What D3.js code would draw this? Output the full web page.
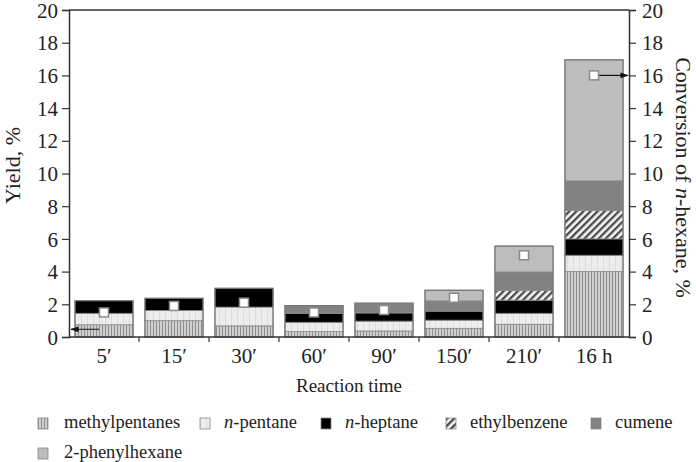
<!DOCTYPE html>
<html>
<head>
<meta charset="utf-8">
<script src="https://cdn.jsdelivr.net/npm/d3@7"></script>
<style>
  body { margin: 0; background: #fff; }
</style>
</head>
<body>
<svg id="chart" width="696" height="462"></svg>
<script>
// categories + series (yield, %)
const categories = ["5\u2032", "15\u2032", "30\u2032", "60\u2032", "90\u2032", "150\u2032", "210\u2032", "16 h"];
const methylpentanes = [0.75, 1.0, 0.68, 0.33, 0.37, 0.53, 0.78, 4.0];
const nPentane       = [0.70, 0.62, 1.15, 0.57, 0.60, 0.50, 0.67, 1.0];
const nHeptane       = [0.77, 0.75, 1.15, 0.55, 0.50, 0.55, 0.80, 1.0];
const ethylbenzene   = [0, 0, 0, 0, 0, 0, 0.60, 1.75];
const cumene         = [0, 0, 0, 0.47, 0.60, 0.63, 1.13, 1.8];
const phenylhexane   = [0, 0, 0, 0, 0, 0.65, 1.58, 7.4];
// conversion of n-hexane, % (right axis)
const conversion = [1.5, 1.9, 2.1, 1.5, 1.65, 2.4, 5.0, 16.0];
const yTicks = [0, 2, 4, 6, 8, 10, 12, 14, 16, 18, 20];

const seriesKeys = ["mp", "np", "nh", "eb", "cu", "ph"];
const seriesNames = ["methylpentanes", "n-pentane", "n-heptane", "ethylbenzene", "cumene", "2-phenylhexane"];
const seriesFill = ["url(#pat-mp)", "url(#pat-np)", "#000", "url(#pat-eb)", "#828282", "#bdbdbd"];

const serif = "Liberation Serif";

const rows = categories.map((c, i) => ({
  cat: c,
  mp: methylpentanes[i], np: nPentane[i], nh: nHeptane[i],
  eb: ethylbenzene[i], cu: cumene[i], ph: phenylhexane[i],
  conv: conversion[i]
}));

const width = 696, height = 462;
const margin = { top: 10, right: 67, bottom: 125, left: 69 };
const innerW = width - margin.left - margin.right;
const innerH = height - margin.top - margin.bottom;

const svg = d3.select("#chart");

// patterns
const defs = svg.append("defs");
const pMp = defs.append("pattern").attr("id", "pat-mp")
  .attr("patternUnits", "userSpaceOnUse").attr("width", 3).attr("height", 10);
pMp.append("rect").attr("width", 3).attr("height", 10).attr("fill", "#cfcfcf");
pMp.append("line").attr("x1", 0.5).attr("x2", 0.5).attr("y1", 0).attr("y2", 10)
  .attr("stroke", "#8f8f8f").attr("stroke-width", 1);

const pNp = defs.append("pattern").attr("id", "pat-np")
  .attr("patternUnits", "userSpaceOnUse").attr("width", 6).attr("height", 10);
pNp.append("rect").attr("width", 6).attr("height", 10).attr("fill", "#ededed");
pNp.append("line").attr("x1", 0.5).attr("x2", 0.5).attr("y1", 0).attr("y2", 10)
  .attr("stroke", "#dcdcdc").attr("stroke-width", 1);

const pEb = defs.append("pattern").attr("id", "pat-eb")
  .attr("patternUnits", "userSpaceOnUse").attr("width", 5).attr("height", 5)
  .attr("patternTransform", "rotate(45)");
pEb.append("rect").attr("width", 5).attr("height", 5).attr("fill", "#f4f4f4");
pEb.append("rect").attr("width", 2.3).attr("height", 5).attr("fill", "#4a4a4a");

const g = svg.append("g").attr("transform", `translate(${margin.left},${margin.top})`);

const x = d3.scaleBand().domain(categories).range([0, innerW])
  .paddingInner(0.17).paddingOuter(0.085);
const y = d3.scaleLinear().domain([0, 20]).range([innerH, 0]);
const y2 = d3.scaleLinear().domain([0, 20]).range([innerH, 0]);

// stacked bars
const stacked = d3.stack().keys(seriesKeys)(rows);
const layer = g.selectAll(".layer").data(stacked).join("g")
  .attr("class", "layer")
  .attr("fill", (d, i) => seriesFill[i]);

layer.selectAll("rect")
  .data(d => d.filter(s => s[1] - s[0] > 0))
  .join("rect")
    .attr("x", d => x(d.data.cat))
    .attr("y", d => y(d[1]))
    .attr("width", x.bandwidth())
    .attr("height", d => y(d[0]) - y(d[1]))
    .attr("stroke", "#8a8a8a")
    .attr("stroke-width", 0.8);

// outer bar outline
g.selectAll(".bar-outline").data(rows).join("rect")
  .attr("class", "bar-outline")
  .attr("x", d => x(d.cat))
  .attr("y", d => y(d.mp + d.np + d.nh + d.eb + d.cu + d.ph))
  .attr("width", x.bandwidth())
  .attr("height", d => innerH - y(d.mp + d.np + d.nh + d.eb + d.cu + d.ph))
  .attr("fill", "none")
  .attr("stroke", "#777")
  .attr("stroke-width", 1.2);

// arrows
defs.append("marker").attr("id", "arrow")
  .attr("viewBox", "0 0 10 10").attr("refX", 9).attr("refY", 5)
  .attr("markerWidth", 7).attr("markerHeight", 7).attr("orient", "auto-start-reverse")
  .append("path").attr("d", "M0,1.5L10,5L0,8.5z").attr("fill", "#111");

const first = rows[0], last = rows[rows.length - 1];
g.append("line")
  .attr("x1", x(first.cat) + x.bandwidth() / 2 - 5).attr("y1", y(0.47))
  .attr("x2", 2).attr("y2", y(0.47))
  .attr("stroke", "#333").attr("stroke-width", 1.2)
  .attr("marker-end", "url(#arrow)");
g.append("line")
  .attr("x1", x(last.cat) + x.bandwidth() / 2 + 5).attr("y1", y2(last.conv))
  .attr("x2", innerW - 1).attr("y2", y2(last.conv))
  .attr("stroke", "#111").attr("stroke-width", 1.2)
  .attr("marker-end", "url(#arrow)");

// conversion markers
g.selectAll(".conv").data(rows).join("rect")
  .attr("class", "conv")
  .attr("x", d => x(d.cat) + x.bandwidth() / 2 - 4.5)
  .attr("y", d => y2(d.conv) - 4.5)
  .attr("width", 9).attr("height", 9)
  .attr("fill", "#fff")
  .attr("stroke", "#8a8a8a")
  .attr("stroke-width", 1.5);

// frame
g.append("line").attr("x1", 0).attr("x2", innerW).attr("y1", 0).attr("y2", 0)
  .attr("stroke", "#333").attr("stroke-width", 1.5);

// axes
const yAxisL = d3.axisLeft(y).tickValues(yTicks).tickSize(7).tickPadding(4);
const yAxisR = d3.axisRight(y2).tickValues(yTicks).tickSize(7).tickPadding(6);
const gl = g.append("g").call(yAxisL);
const gr = g.append("g").attr("transform", `translate(${innerW},0)`).call(yAxisR);
[gl, gr].forEach(a => {
  a.attr("font-family", null).attr("font-size", null);
  a.select(".domain").attr("stroke", "#333").attr("stroke-width", 1.5);
  a.selectAll(".tick line").attr("stroke", "#333").attr("stroke-width", 1.2);
  a.selectAll(".tick text")
    .style("font-family", serif).style("font-size", "21px")
    .attr("fill", "#222").attr("dy", "0.34em");
});

// x axis: baseline, boundary ticks, category labels
const gx = g.append("g").attr("transform", `translate(0,${innerH})`);
gx.append("line").attr("x1", 0).attr("x2", innerW)
  .attr("stroke", "#333").attr("stroke-width", 1.5);
gx.selectAll(".xb").data(d3.range(1, categories.length)).join("line")
  .attr("class", "xb")
  .attr("x1", i => x.step() * i).attr("x2", i => x.step() * i)
  .attr("y1", 0).attr("y2", 5)
  .attr("stroke", "#333").attr("stroke-width", 1.2);
gx.selectAll(".xl").data(categories).join("text")
  .attr("class", "xl")
  .attr("x", d => x(d) + x.bandwidth() / 2)
  .attr("y", 26)
  .attr("text-anchor", "middle")
  .style("font-family", serif).style("font-size", "21px")
  .attr("fill", "#222")
  .text(d => d);

// axis titles
g.append("text")
  .attr("x", innerW / 2).attr("y", innerH + 55)
  .attr("text-anchor", "middle")
  .style("font-family", serif).style("font-size", "19px")
  .attr("fill", "#222")
  .text("Reaction time");

g.append("text")
  .attr("transform", `translate(${-49},${innerH / 2 - 8}) rotate(-90)`)
  .attr("text-anchor", "middle")
  .style("font-family", serif).style("font-size", "22px")
  .attr("fill", "#222")
  .text("Yield, %");

const rt = g.append("text")
  .attr("transform", `translate(${innerW + 47},${innerH / 2 + 4}) rotate(90)`)
  .attr("text-anchor", "middle")
  .style("font-family", serif).style("font-size", "22px")
  .attr("fill", "#222");
rt.append("tspan").text("Conversion of ");
rt.append("tspan").attr("font-style", "italic").text("n");
rt.append("tspan").text("-hexane, %");

// legend
const legendPos = [[38, 418], [200, 418], [321, 418], [446, 418], [591, 418], [38, 448]];
const lg = svg.append("g").attr("class", "legend");
const items = lg.selectAll("g").data(seriesNames).join("g")
  .attr("transform", (d, i) => `translate(${legendPos[i][0]},${legendPos[i][1]})`);
items.append("rect")
  .attr("width", 10).attr("height", 11)
  .attr("fill", (d, i) => seriesFill[i])
  .attr("stroke", "#888").attr("stroke-width", 0.8);
const lt = items.append("text")
  .attr("x", (d, i) => i === 0 || i === 5 ? 26 : 24)
  .attr("y", 10)
  .style("font-family", serif).style("font-size", "18.5px")
  .attr("fill", "#222");
lt.each(function(d) {
  const t = d3.select(this);
  if (d.startsWith("n-")) {
    t.append("tspan").attr("font-style", "italic").text("n");
    t.append("tspan").text(d.slice(1));
  } else {
    t.text(d);
  }
});
</script>
</body>
</html>
